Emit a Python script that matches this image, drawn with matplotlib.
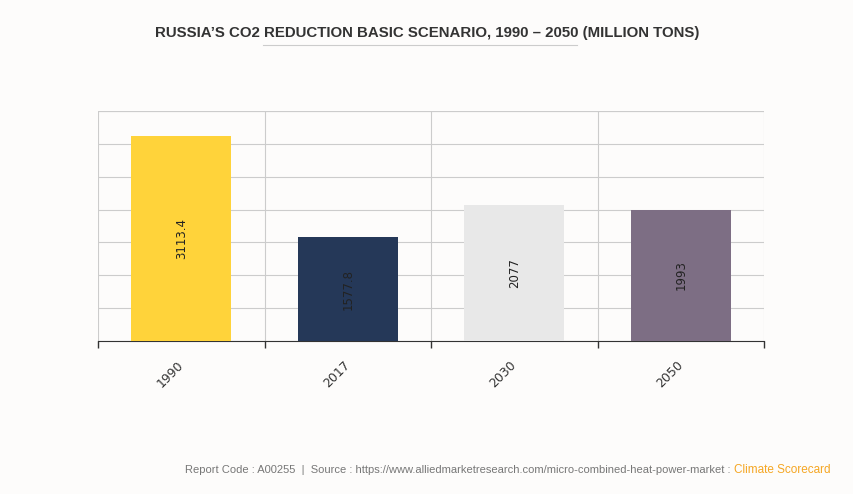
import matplotlib.pyplot as plt
import numpy as np

years = ["1990", "2017", "2030", "2050"]
emissions = [3113.4, 1577.8, 2077, 1993]
labels = ["3113.4", "1577.8", "2077", "1993"]
colors = ["#FFD33A", "#253858", "#E8E8E8", "#7D6E84"]

bg = "#FDFCFB"
fig = plt.figure(figsize=(8.54, 4.94), dpi=100, facecolor=bg)
ax = fig.add_axes([0.1148, 0.3097, 0.7798, 0.4656])
ax.set_facecolor(bg)

x = np.arange(len(years))
bars = ax.bar(x, emissions, width=0.6, color=colors, zorder=3)
for b, lab in zip(bars, labels):
    ax.text(b.get_x() + b.get_width() / 2, b.get_height() / 2, lab,
            rotation=90, ha="center", va="center", fontsize=8.5, color="#222222", zorder=4)

ax.set_xlim(-0.5, 3.5)
ax.set_ylim(0, 3500)
ax.set_yticks(np.arange(0, 3501, 500))
ax.set_yticklabels([])
ax.tick_params(axis="y", length=0)
ax.set_xticks(np.arange(-0.5, 3.6, 1), minor=False)
ax.set_xticklabels([])
ax.tick_params(axis="x", length=5, color="#333333", width=1)
ax.set_xticks(x, minor=True)
ax.set_xticklabels(years, minor=True, rotation=45, ha="right", va="center",
                   rotation_mode="anchor", fontsize=9, color="#333333")
ax.tick_params(axis="x", which="minor", length=0, pad=16)
ax.grid(True, which="major", color="#CCCCCC", linewidth=0.8, zorder=0)
for s in ["top", "right", "left"]:
    ax.spines[s].set_visible(False)
ax.spines["bottom"].set_color("#333333")
ax.axhline(3500, color="#CCCCCC", linewidth=0.8, zorder=0)

fig.text(0.5, 0.933, "RUSSIA\u2019S CO2 REDUCTION BASIC SCENARIO, 1990 \u2013 2050 (MILLION TONS)",
         ha="center", va="center", fontsize=10.8, fontweight="bold", color="#333333",
         family="Liberation Sans")
fig.add_artist(plt.Line2D([263 / 854, 577 / 854], [1 - 45 / 494] * 2, color="#CCCCCC", linewidth=0.8))

fig.text(0.859, 0.048, "Report Code : A00255  |  Source : https://www.alliedmarketresearch.com/micro-combined-heat-power-market : ",
         ha="right", va="center", fontsize=8, color="#777777", family="Liberation Sans")
fig.text(0.859, 0.048, "Climate Scorecard", ha="left", va="center", fontsize=8.5,
         color="#F5A623", family="Liberation Sans")

fig.savefig("out.png", dpi=100, facecolor=bg)
